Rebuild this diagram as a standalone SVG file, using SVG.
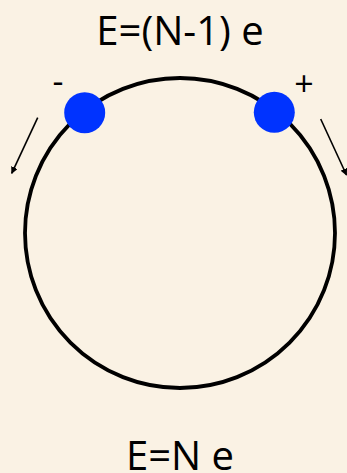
<svg xmlns="http://www.w3.org/2000/svg" width="347" height="473" viewBox="0 0 347 473">
<defs>
<style>
.t{font-family:"Open Sans","DejaVu Sans",sans-serif;fill:#000;text-anchor:middle}
.dot{fill:#0033FF}
.arr{stroke:#000;stroke-width:1.6;fill:none;marker-end:url(#ah)}
</style>
<marker id="ah" viewBox="0 0 10 10" refX="9" refY="5" markerWidth="7" markerHeight="7" markerUnits="userSpaceOnUse" orient="auto"><path d="M0,0 L10,5 L0,10 z" fill="#000"/></marker>
</defs>
<rect width="347" height="473" fill="#FAF2E4"/>
<g id="ring"><circle cx="180" cy="233" r="155" fill="none" stroke="#000" stroke-width="3.8"/></g>
<g id="connectors">
<line class="arr" x1="37.7" y1="117.7" x2="11.7" y2="173.3"/>
<line class="arr" x1="320.7" y1="119" x2="346.5" y2="175"/>
</g>
<g id="minus-charge"><circle class="dot" cx="84.7" cy="112.7" r="20.5"/><text class="t" x="58" y="93" font-size="34">-</text></g>
<g id="plus-charge"><circle class="dot" cx="274.3" cy="112.3" r="20.5"/><text class="t" x="304" y="96" font-size="34">+</text></g>
<g id="label-top"><text class="t" x="180" y="45" font-size="40">E=(N-1) e</text></g>
<g id="label-bottom"><text class="t" x="180" y="470" font-size="40">E=N e</text></g>
</svg>
